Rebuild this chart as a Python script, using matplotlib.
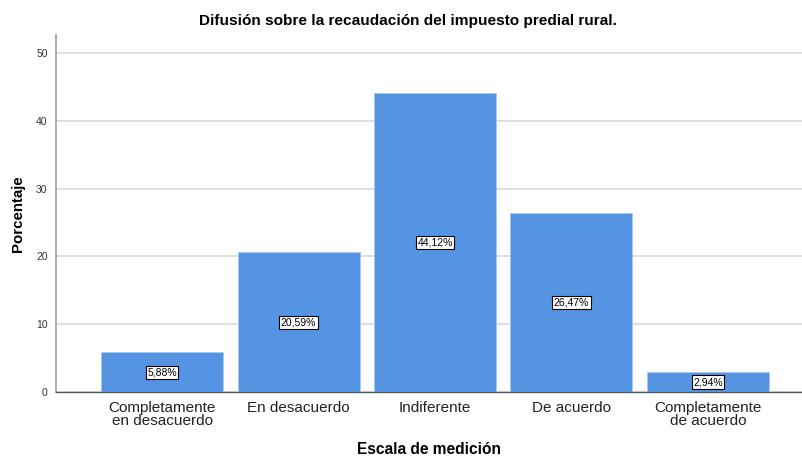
import matplotlib.pyplot as plt
import numpy as np

plt.rcParams['font.family'] = ['Liberation Sans', 'DejaVu Sans']

# datos
categorias = ['Completamente\nen desacuerdo', 'En desacuerdo', 'Indiferente',
              'De acuerdo', 'Completamente\nde acuerdo']
porcentajes = [5.88, 20.59, 44.12, 26.47, 2.94]
etiquetas = ['5,88%', '20,59%', '44,12%', '26,47%', '2,94%']
yticks = [0, 10, 20, 30, 40, 50]

fig = plt.figure(figsize=(8.02, 4.57), dpi=100)
ax = fig.add_axes([0.0698, 0.1422, 0.9302, 0.7812])

x = np.arange(len(categorias))
ax.bar(x, porcentajes, width=0.894, color='#5594E3', edgecolor='#A9C8F0',
       linewidth=0.6, zorder=3)

# etiquetas dentro de las barras
for xi, v, t in zip(x, porcentajes, etiquetas):
    ax.text(xi, v / 2, t, ha='center', va='center', fontsize=7.5, zorder=4,
            bbox=dict(boxstyle='square,pad=0.15', facecolor='white',
                      edgecolor='black', linewidth=0.8))

ax.set_xlim(-0.777, 4.689)
ax.set_ylim(0, 52.65)
ax.set_yticks(yticks)
ax.set_xticks(x)
ax.set_xticklabels(categorias, fontsize=11, linespacing=0.95)
ax.tick_params(axis='y', length=0, labelsize=7.5, pad=6, labelcolor='#333333')
ax.tick_params(axis='x', length=0, pad=6.5, labelcolor='#222222')
ax.grid(axis='y', color='#D9D9D9', linewidth=1.2, zorder=0)

for s in ['top', 'right']:
    ax.spines[s].set_visible(False)
ax.spines['left'].set_color('#9E9E9E')
ax.spines['left'].set_linewidth(1.2)
ax.spines['bottom'].set_color('#555555')
ax.spines['bottom'].set_linewidth(1.0)

ax.set_ylabel('Porcentaje', fontsize=10.8, fontweight='bold', labelpad=8)
ax.set_xlabel('Escala de medición', fontsize=11.2, fontweight='bold', labelpad=10)
fig.text(0.5085, 0.955, 'Difusión sobre la recaudación del impuesto predial rural.',
         ha='center', va='center', fontsize=11.1, fontweight='bold')

plt.savefig('out.png', dpi=100)
